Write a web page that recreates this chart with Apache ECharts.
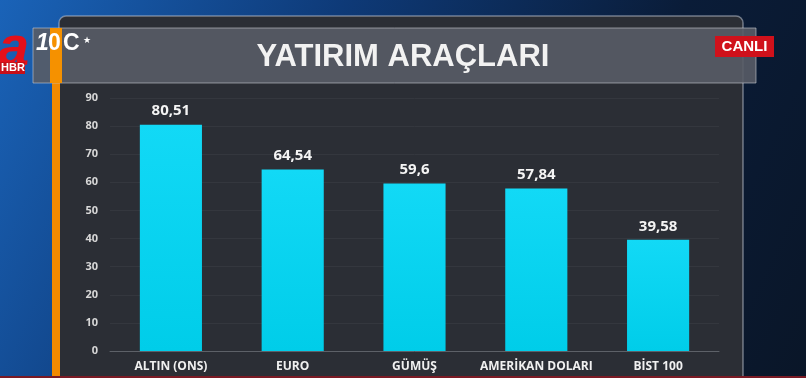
<!DOCTYPE html>
<html>
<head>
<meta charset="utf-8">
<script src="https://cdn.jsdelivr.net/npm/echarts@6/dist/echarts.min.js"></script>
<style>
html,body{margin:0;padding:0;background:#0b1e3a;}
#c{width:806px;height:378px;}
</style>
</head>
<body>
<div id="c"></div>
<script>
const titleText = 'YATIRIM ARAÇLARI';
const categories = ['ALTIN (ONS)', 'EURO', 'GÜMÜŞ', 'AMERİKAN DOLARI', 'BİST 100'];
const values = [80.51, 64.54, 59.6, 57.84, 39.58];
const yTicks = [0, 10, 20, 30, 40, 50, 60, 70, 80, 90];

const chart = echarts.init(document.getElementById('c'));
const option = {
  backgroundColor: {
    type: 'linear', x: 0, y: 0, x2: 1, y2: 1,
    colorStops: [
      {offset: 0, color: '#1a63b8'},
      {offset: 0.35, color: '#0e3a78'},
      {offset: 0.7, color: '#0a1c38'},
      {offset: 1, color: '#0a1628'}
    ]
  },
  animation: false,
  graphic: [
    {type: 'rect', z: -10, shape: {x: 59, y: 16, width: 684, height: 380, r: 7},
      style: {fill: '#2b2e35', stroke: 'rgba(190,195,205,0.55)', lineWidth: 1.5}},
    {type: 'rect', z: -9, shape: {x: 52, y: 83, width: 8, height: 300},
      style: {fill: '#f28a00'}},
    {type: 'rect', z: -8, shape: {x: 33, y: 28, width: 723, height: 55},
      style: {fill: 'rgba(88,92,102,0.9)', stroke: 'rgba(200,204,212,0.6)', lineWidth: 1}},
    {type: 'rect', z: -7, shape: {x: 50, y: 28, width: 12, height: 55},
      style: {fill: '#f59100'}},
    {type: 'text', z: 5, x: -2, y: 22,
      style: {text: 'a', fill: '#e3101a', font: 'italic bold 56px "Liberation Sans"'}},
    {type: 'rect', z: 5, shape: {x: 0, y: 62, width: 25, height: 12},
      style: {fill: '#c70f18'}},
    {type: 'text', z: 6, x: 1, y: 62,
      style: {text: 'HBR', fill: '#ffffff', font: 'bold 11px "Liberation Sans"'}},
    {type: 'text', z: 5, x: 36, y: 32,
      style: {text: '1', fill: '#ffffff', font: 'italic bold 23px "Liberation Sans"'}},
    {type: 'text', z: 5, x: 48, y: 32,
      style: {text: '0', fill: '#ffffff', font: 'bold 23px "Liberation Sans"'}},
    {type: 'text', z: 5, x: 63, y: 32,
      style: {text: 'C', fill: '#ffffff', font: 'bold 23px "Liberation Sans"'}},
    {type: 'text', z: 5, x: 83, y: 36,
      style: {text: '★', fill: '#ffffff', font: '9px "DejaVu Sans"'}},
    {type: 'rect', z: 5, shape: {x: 715, y: 36, width: 59, height: 21},
      style: {fill: '#d0111b'}},
    {type: 'text', z: 6, x: 744.5, y: 47,
      style: {text: 'CANLI', fill: '#ffffff', font: 'bold 15px "Liberation Sans"',
        align: 'center', verticalAlign: 'middle'}},
    {type: 'rect', z: 6, shape: {x: 0, y: 376, width: 806, height: 2},
      style: {fill: '#7a1a24'}}
  ],
  title: {
    text: titleText,
    left: 'center',
    top: 37,
    textStyle: {
      color: '#f2f2f2',
      fontFamily: '"Liberation Sans", sans-serif',
      fontWeight: 'bold',
      fontSize: 31
    }
  },
  grid: {left: 110, right: 87, top: 98, bottom: 27, containLabel: false},
  xAxis: {
    type: 'category',
    data: categories,
    axisLine: {lineStyle: {color: '#5d6168', width: 1}},
    axisTick: {show: false},
    axisLabel: {
      interval: 0,
      color: '#f0f0f0', fontSize: 12, fontWeight: 'bold',
      fontFamily: '"Open Sans", sans-serif', margin: 10
    }
  },
  yAxis: {
    type: 'value',
    min: yTicks[0], max: yTicks[yTicks.length - 1], interval: 10,
    axisLine: {show: false},
    axisTick: {show: false},
    splitLine: {lineStyle: {color: '#34373e', width: 1}},
    axisLabel: {
      color: '#d8d8d8', fontSize: 11, fontWeight: 'bold',
      fontFamily: '"Open Sans", sans-serif', margin: 12
    }
  },
  series: [{
    type: 'bar',
    data: values,
    barWidth: '51%',
    itemStyle: {
      color: {
        type: 'linear', x: 0, y: 0, x2: 0, y2: 1,
        colorStops: [{offset: 0, color: '#12d9f6'}, {offset: 1, color: '#00cde9'}]
      }
    },
    label: {
      show: true, position: 'top', distance: 6,
      color: '#f4f4f4', fontSize: 15, fontWeight: 'bold',
      fontFamily: '"Open Sans", sans-serif',
      formatter: p => String(p.value).replace('.', ',')
    }
  }]
};
chart.setOption(option);
</script>
</body>
</html>
